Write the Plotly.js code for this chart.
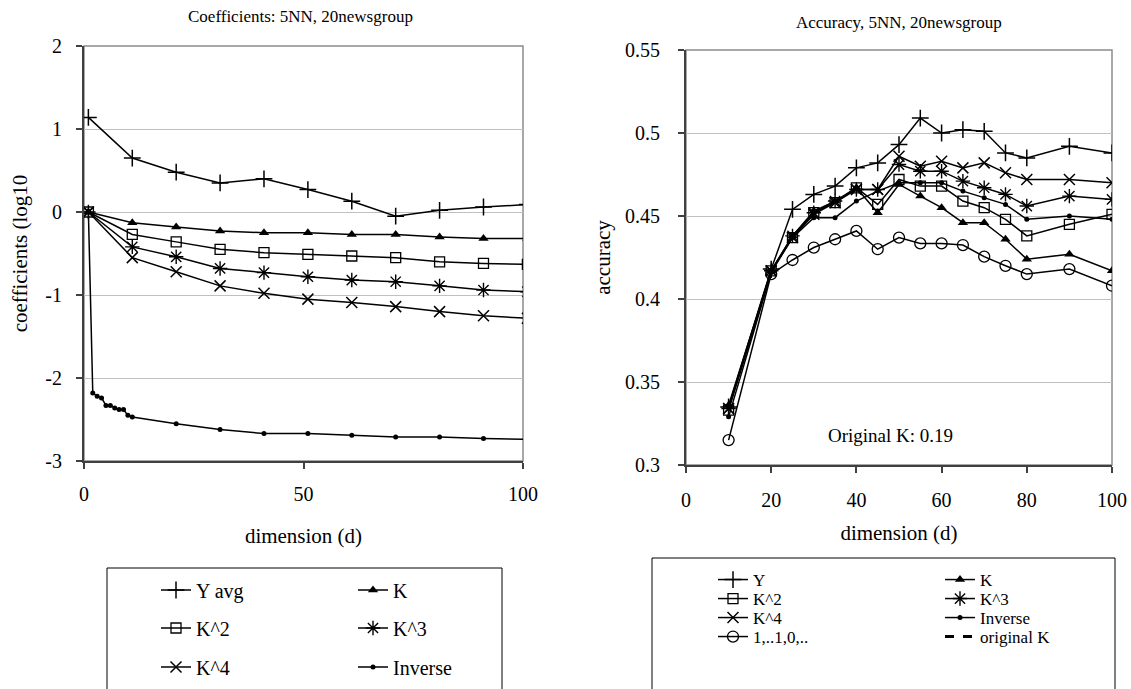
<!DOCTYPE html>
<html><head><meta charset="utf-8">
<script src="https://cdn.plot.ly/plotly-3.0.1.min.js"></script>
<style>
html,body{margin:0;padding:0;background:#fff}
#chart{width:1131px;height:689px}
#chart .xtick text, #chart .ytick text, #chart .x2tick text, #chart .y2tick text{font-family:'Liberation Serif', serif !important;}
</style>
</head><body><div id="chart"></div>
<script>
// ---------- LEFT CHART DATA: Coefficients (log10) ----------
const coefDims    = [1, 11, 21, 31, 41, 51, 61, 71, 81, 91, 101];
const coefYavg    = [1.14, 0.65, 0.48, 0.35, 0.40, 0.27, 0.13, -0.05, 0.02, 0.06, 0.09];
const coefK       = [0, -0.13, -0.18, -0.23, -0.25, -0.25, -0.27, -0.27, -0.30, -0.32, -0.32];
const coefK2      = [0, -0.27, -0.36, -0.45, -0.49, -0.51, -0.53, -0.55, -0.60, -0.62, -0.63];
const coefK3      = [0, -0.42, -0.54, -0.68, -0.73, -0.78, -0.82, -0.84, -0.89, -0.94, -0.96];
const coefK4      = [0, -0.55, -0.72, -0.89, -0.98, -1.05, -1.09, -1.14, -1.20, -1.25, -1.28];
const invDims     = [1, 2, 3, 4, 5, 6, 7, 8, 9, 10, 11, 21, 31, 41, 51, 61, 71, 81, 91, 101];
const coefInverse = [0, -2.18, -2.22, -2.24, -2.33, -2.33, -2.36, -2.38, -2.38, -2.45, -2.47, -2.55, -2.62, -2.67, -2.67, -2.69, -2.71, -2.71, -2.73, -2.74];
const coefYTickVals = [-3, -2, -1, 0, 1, 2];
const coefYTickText = ['-3', '-2', '-1', '0', '1', '2'];
const coefXTickVals = [0, 50, 100];

// ---------- RIGHT CHART DATA: Accuracy ----------
const accDims = [10, 20, 25, 30, 35, 40, 45, 50, 55, 60, 65, 70, 75, 80, 90, 100];
const accY    = [0.335, 0.418, 0.454, 0.463, 0.468, 0.479, 0.482, 0.493, 0.509, 0.500, 0.502, 0.501, 0.488, 0.485, 0.492, 0.488];
const accK    = [0.336, 0.417, 0.438, 0.453, 0.459, 0.467, 0.452, 0.469, 0.462, 0.455, 0.446, 0.446, 0.436, 0.424, 0.427, 0.417];
const accK2   = [0.333, 0.417, 0.437, 0.452, 0.458, 0.467, 0.457, 0.472, 0.468, 0.468, 0.459, 0.455, 0.448, 0.438, 0.445, 0.451];
const accK3   = [0.334, 0.417, 0.438, 0.452, 0.459, 0.466, 0.466, 0.481, 0.477, 0.477, 0.471, 0.467, 0.463, 0.456, 0.462, 0.460];
const accK4   = [0.334, 0.417, 0.437, 0.451, 0.458, 0.466, 0.466, 0.486, 0.480, 0.483, 0.479, 0.482, 0.476, 0.472, 0.472, 0.470];
const accInv  = [0.329, 0.416, 0.437, 0.449, 0.449, 0.459, 0.465, 0.470, 0.470, 0.470, 0.465, 0.461, 0.457, 0.448, 0.450, 0.448];
const accBin  = [0.315, 0.415, 0.4235, 0.431, 0.436, 0.441, 0.430, 0.437, 0.4335, 0.4335, 0.4325, 0.4255, 0.420, 0.415, 0.418, 0.408];
const accYTickVals = [0.3, 0.35, 0.4, 0.45, 0.5, 0.55];
const accXTickVals = [0, 20, 40, 60, 80, 100];
const origKDims  = [0, 100];
const origKVals  = [0.19, 0.19];

// ---------- styling ----------
const W = 1131, H = 689;
const FONT = 'Liberation Serif';
const px = v => v / W;
const py = v => 1 - v / H;

function symStyle(kind) {
  const s = {
    plus:   {symbol: 'cross-thin-open', size: 12, lw: 1.5},
    tri:    {symbol: 'triangle-up', size: 9, lw: 0},
    square: {symbol: 'square-open', size: 10, lw: 1.3},
    star:   {symbol: 'asterisk-open', size: 12, lw: 1.4},
    cross:  {symbol: 'x-thin-open', size: 11, lw: 1.5},
    dot:    {symbol: 'circle', size: 5, lw: 0},
    circ:   {symbol: 'circle-open', size: 11, lw: 1.3}
  }[kind];
  return {symbol: s.symbol, size: s.size, color: '#000', line: {color: '#000', width: s.lw}};
}

function tr(x, y, name, sym, xa, ya, leg) {
  return {type: 'scatter', mode: 'lines+markers', x: x, y: y, name: name,
    xaxis: xa, yaxis: ya, legend: leg, cliponaxis: true,
    line: {color: '#000', width: 1.5}, marker: symStyle(sym)};
}

const traces = [
  tr(coefDims, coefYavg, 'Y avg', 'plus', 'x', 'y', 'legend'),
  tr(coefDims, coefK, 'K', 'tri', 'x', 'y', 'legend2'),
  tr(coefDims, coefK2, 'K^2', 'square', 'x', 'y', 'legend3'),
  tr(coefDims, coefK3, 'K^3', 'star', 'x', 'y', 'legend4'),
  tr(coefDims, coefK4, 'K^4', 'cross', 'x', 'y', 'legend5'),
  tr(invDims, coefInverse, 'Inverse', 'dot', 'x', 'y', 'legend6'),

  tr(accDims, accBin, '1,..1,0,..', 'circ', 'x2', 'y2', 'legend13'),
  tr(accDims, accInv, 'Inverse', 'dot', 'x2', 'y2', 'legend12'),
  tr(accDims, accK, 'K', 'tri', 'x2', 'y2', 'legend8'),
  tr(accDims, accK2, 'K^2', 'square', 'x2', 'y2', 'legend9'),
  tr(accDims, accK3, 'K^3', 'star', 'x2', 'y2', 'legend10'),
  tr(accDims, accK4, 'K^4', 'cross', 'x2', 'y2', 'legend11'),
  tr(accDims, accY, 'Y', 'plus', 'x2', 'y2', 'legend7'),
  {type: 'scatter', mode: 'lines', x: origKDims, y: origKVals, name: 'original K',
   xaxis: 'x2', yaxis: 'y2', legend: 'legend14', line: {color: '#000', width: 3, dash: 'dash'}}
];

function fnt(size) { return {family: FONT, size: size, color: '#000'}; }

function legendAt(textX, rowY, size) {
  return {x: px(textX - 40), y: py(rowY), xanchor: 'left', yanchor: 'middle',
    orientation: 'h', bgcolor: 'rgba(0,0,0,0)', borderwidth: 0, font: fnt(size)};
}

function axis(extra) {
  return Object.assign({showline: true, linecolor: '#404040', linewidth: 2, ticks: 'outside',
    ticklen: 6, tickcolor: '#404040', tickwidth: 1.5, tickfont: fnt(20), zeroline: false}, extra);
}

const layout = {
  width: W, height: H, margin: {l: 0, r: 0, t: 0, b: 0},
  paper_bgcolor: '#fff', plot_bgcolor: '#fff',
  font: fnt(18),
  showlegend: true,
  xaxis: axis({domain: [px(84), px(523)], range: [0, 100], anchor: 'y',
    tickvals: coefXTickVals, showgrid: false, ticklabelstandoff: 8,
    title: {text: 'dimension (d)', font: fnt(21), standoff: 24}}),
  yaxis: axis({domain: [py(461), py(46)], range: [-3, 2], anchor: 'x',
    tickvals: coefYTickVals, ticktext: coefYTickText, showgrid: true, gridcolor: '#c0c0c0', gridwidth: 1,
    ticklabelstandoff: 10,
    title: {text: 'coefficients (log10', font: fnt(21), standoff: 12}}),
  xaxis2: axis({domain: [px(686), px(1112)], range: [0, 100], anchor: 'y2',
    tickvals: accXTickVals, showgrid: false, ticklabelstandoff: 10,
    title: {text: 'dimension (d)', font: fnt(21), standoff: 15}}),
  yaxis2: axis({domain: [py(465), py(50)], range: [0.3, 0.55], anchor: 'x2',
    tickvals: accYTickVals, showgrid: true, gridcolor: '#c0c0c0', gridwidth: 1,
    ticklabelstandoff: 14,
    title: {text: 'accuracy', font: fnt(21), standoff: 9}}),
  shapes: [
    {type: 'rect', xref: 'x domain', yref: 'y domain', x0: 0, x1: 1, y0: 0, y1: 1,
     line: {color: '#8c8c8c', width: 1.5}, layer: 'below'},
    {type: 'rect', xref: 'x2 domain', yref: 'y2 domain', x0: 0, x1: 1, y0: 0, y1: 1,
     line: {color: '#8c8c8c', width: 1.5}, layer: 'below'},
    {type: 'rect', xref: 'paper', yref: 'paper', x0: px(107), x1: px(502), y0: -0.02, y1: py(568),
     line: {color: '#000', width: 1}, layer: 'above'},
    {type: 'rect', xref: 'paper', yref: 'paper', x0: px(652), x1: px(1115), y0: -0.02, y1: py(558),
     line: {color: '#000', width: 1}, layer: 'above'}
  ],
  annotations: [
    {text: 'Coefficients: 5NN, 20newsgroup', xref: 'paper', yref: 'paper', x: px(300), y: py(16),
     xanchor: 'center', yanchor: 'middle', showarrow: false, font: fnt(17)},
    {text: 'Accuracy, 5NN, 20newsgroup', xref: 'paper', yref: 'paper', x: px(899), y: py(22),
     xanchor: 'center', yanchor: 'middle', showarrow: false, font: fnt(17)},
    {text: 'Original K: ' + origKVals[0], xref: 'x2', yref: 'y2', x: 48, y: 0.318,
     xanchor: 'center', yanchor: 'middle', showarrow: false, font: fnt(19)}
  ],
  legend:   legendAt(196, 590, 20),
  legend2:  legendAt(393, 590, 20),
  legend3:  legendAt(196, 628, 20),
  legend4:  legendAt(393, 628, 20),
  legend5:  legendAt(196, 667, 20),
  legend6:  legendAt(393, 667, 20),
  legend7:  legendAt(753, 580, 17),
  legend8:  legendAt(980, 580, 17),
  legend9:  legendAt(753, 599, 17),
  legend10: legendAt(980, 599, 17),
  legend11: legendAt(753, 618, 17),
  legend12: legendAt(980, 618, 17),
  legend13: legendAt(753, 637, 17),
  legend14: legendAt(980, 637, 17)
};

Plotly.newPlot('chart', traces, layout, {displayModeBar: false});
</script>
</body></html>
